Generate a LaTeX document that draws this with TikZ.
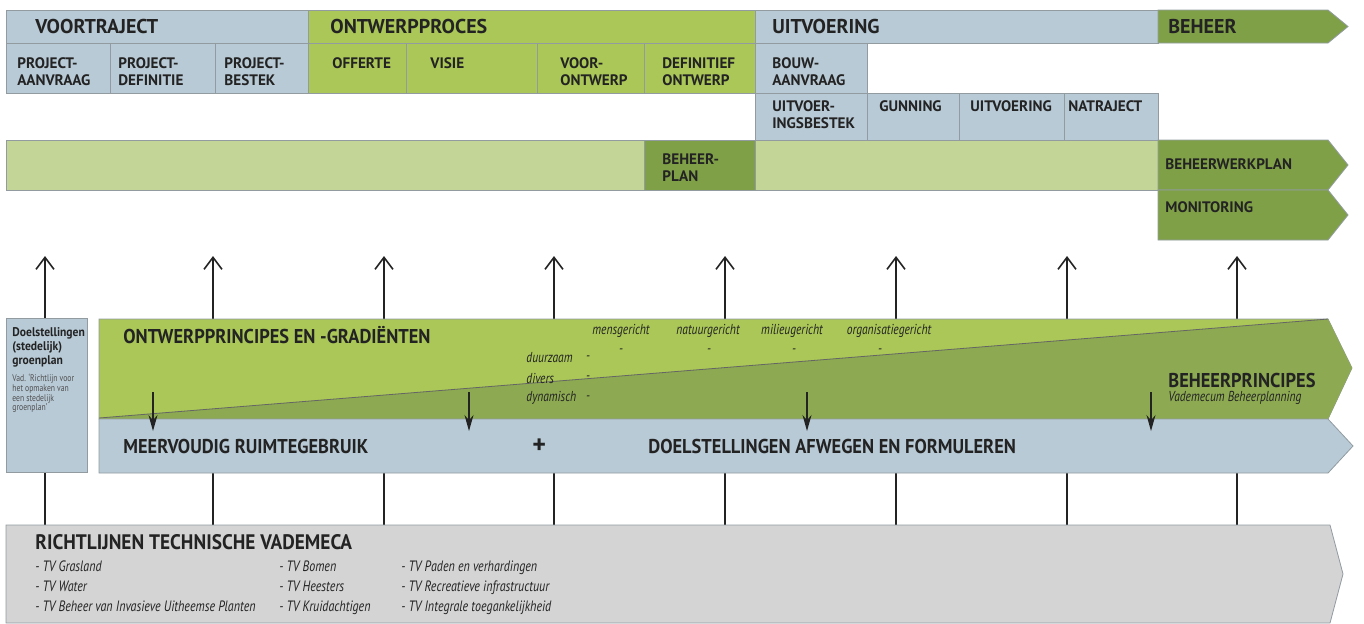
\documentclass[tikz,border=0pt]{standalone}
\usepackage{fontspec}
\setmainfont{PT Sans}
\newfontfamily\headfont{PT Sans}[FakeStretch=0.92]
\newfontfamily\condfont{PT Sans}[FakeStretch=0.8]
\usetikzlibrary{arrows.meta}
\definecolor{ink}{RGB}{35,35,35}
\definecolor{edgegray}{RGB}{145,155,160}
\definecolor{greyblue}{RGB}{184,202,214}
\definecolor{lime}{RGB}{170,199,88}
\definecolor{darkgreen}{RGB}{128,160,72}
\definecolor{palegreen}{RGB}{196,213,152}
\definecolor{wedge}{RGB}{141,170,82}
\definecolor{lightgrey}{RGB}{212,212,212}
\begin{document}
\begin{tikzpicture}[x=0.5pt,y=-0.5pt,
  edge/.style={draw=edgegray, line width=0.4pt},
  phase/.style={font=\bfseries\fontsize{10}{11}\selectfont, text=ink, anchor=west, inner sep=0pt},
  head/.style={font=\headfont\bfseries\fontsize{10}{11}\selectfont, text=ink, anchor=west, inner sep=0pt},
  cell/.style={font=\bfseries\fontsize{7.6}{8.5}\selectfont, text=ink, anchor=north west, align=left, inner sep=0pt},
  grad/.style={font=\condfont\itshape\fontsize{7.2}{8}\selectfont, text=ink, inner sep=0pt},
  tvlist/.style={font=\condfont\itshape\fontsize{7.5}{10}\selectfont, text=ink, anchor=north west, align=left, inner sep=0pt},
  uparrow/.style={draw=ink, line width=0.8pt, -{Straight Barb[length=6pt,width=9pt,line width=0.8pt]}},
  downarrow/.style={draw=ink, line width=0.7pt, -{Stealth[length=8pt,width=4.5pt]}}]
\useasboundingbox (0,0) rectangle (1364,623);

% vertical lines behind the bands
\coordinate (base1) at (45,525);   \coordinate (up1) at (45,256);
\coordinate (base2) at (213,525);  \coordinate (up2) at (213,256);
\coordinate (base3) at (384,525);  \coordinate (up3) at (384,256);
\coordinate (base4) at (554,525);  \coordinate (up4) at (554,256);
\coordinate (base5) at (725,525);  \coordinate (up5) at (725,256);
\coordinate (base6) at (896,525);  \coordinate (up6) at (896,256);
\coordinate (base7) at (1067,525); \coordinate (up7) at (1067,256);
\coordinate (base8) at (1237,525); \coordinate (up8) at (1237,256);
\draw[uparrow] (base1) -- (up1);
\draw[uparrow] (base2) -- (up2);
\draw[uparrow] (base3) -- (up3);
\draw[uparrow] (base4) -- (up4);
\draw[uparrow] (base5) -- (up5);
\draw[uparrow] (base6) -- (up6);
\draw[uparrow] (base7) -- (up7);
\draw[uparrow] (base8) -- (up8);

% phases
\draw[edge, fill=greyblue] (6,10) rectangle (308,43);
\draw[edge, fill=lime] (308,10) rectangle (755,43);
\draw[edge, fill=greyblue] (755,10) rectangle (1158,43);
\draw[edge, fill=darkgreen] (1158,10) -- (1328,10) -- (1348,26.5) -- (1328,43) -- (1158,43) -- cycle;
\node[phase] (voortraject) at (35,26) {VOORTRAJECT};
\node[phase] (ontwerpproces) at (330,26) {ONTWERPPROCES};
\node[phase] (uitvoering) at (772,26) {UITVOERING};
\node[phase] (beheer) at (1168,26) {BEHEER};

% steps
\draw[edge, fill=greyblue] (6,43) rectangle (110,93);
\draw[edge, fill=greyblue] (110,43) rectangle (215,93);
\draw[edge, fill=greyblue] (215,43) rectangle (308,93);
\draw[edge, fill=lime] (308,43) rectangle (406,93);
\draw[edge, fill=lime] (406,43) rectangle (537,93);
\draw[edge, fill=lime] (537,43) rectangle (644,93);
\draw[edge, fill=lime] (644,43) rectangle (755,93);
\draw[edge, fill=greyblue] (755,43) rectangle (867,93);
\draw[edge, fill=greyblue] (755,93) rectangle (867,140);
\draw[edge, fill=greyblue] (867,93) rectangle (959,140);
\draw[edge, fill=greyblue] (959,93) rectangle (1064,140);
\draw[edge, fill=greyblue] (1064,93) rectangle (1158,140);
\node[cell] (aanvraag) at (17,57) {PROJECT-\\AANVRAAG};
\node[cell] (definitie) at (118,57) {PROJECT-\\DEFINITIE};
\node[cell] (bestek) at (224,57) {PROJECT-\\BESTEK};
\node[cell] (offerte) at (332,57) {OFFERTE};
\node[cell] (visie) at (430,57) {VISIE};
\node[cell] (voorontwerp) at (560,57) {VOOR-\\ONTWERP};
\node[cell] (definitief) at (662,57) {DEFINITIEF\\ONTWERP};
\node[cell] (bouwaanvraag) at (772,57) {BOUW-\\AANVRAAG};
\node[cell] (uitvbestek) at (772,100) {UITVOER-\\INGSBESTEK};
\node[cell] (gunning) at (879,100) {GUNNING};
\node[cell] (uitvoer) at (970,100) {UITVOERING};
\node[cell] (natraject) at (1068,100) {NATRAJECT};

% beheer band
\draw[edge, fill=palegreen] (6,140) rectangle (644,190);
\draw[edge, fill=darkgreen] (644,140) rectangle (755,190);
\draw[edge, fill=palegreen] (755,140) rectangle (1158,190);
\draw[edge, fill=darkgreen] (1158,140) -- (1328,140) -- (1348,165) -- (1328,190) -- (1158,190) -- cycle;
\draw[edge, fill=darkgreen] (1158,190) -- (1328,190) -- (1348,215) -- (1328,240) -- (1158,240) -- cycle;
\node[cell] (beheerplan) at (662,153) {BEHEER-\\PLAN};
\node[cell, anchor=west] (werkplan) at (1165,164) {BEHEERWERKPLAN};
\node[cell, anchor=west] (monitoring) at (1165,207) {MONITORING};

% left box
\draw[edge, fill=greyblue] (6,318) rectangle (87,472);
\node[font=\headfont\bfseries\fontsize{6.3}{7}\selectfont, text=ink, anchor=north west, align=left, inner sep=0pt] (doel) at (12,327) {Doelstellingen\\(stedelijk)\\groenplan};
\node[font=\condfont\fontsize{4.8}{4.8}\selectfont, text=ink!80, anchor=north west, align=left, inner sep=0pt] (vad) at (12,374) {Vad. ‘Richtlijn voor\\het opmaken van\\een stedelijk\\groenplan’};

% principes band
\draw[edge, fill=lime] (99,319) -- (1328,319) -- (1352,368) -- (1328,419) -- (99,419) -- cycle;
\fill[wedge] (99,418) -- (1328,319) -- (1352,368) -- (1328,419) -- (99,419) -- cycle;
\draw[ink!70, line width=0.4pt] (99,418) -- (1328,319);
\node[head] (principes) at (123,335) {ONTWERPPRINCIPES EN -GRADIËNTEN};
\node[grad] (mens) at (621,331) {mensgericht};
\node[grad] (natuur) at (708,331) {natuurgericht};
\node[grad] (milieu) at (792,331) {milieugericht};
\node[grad] (organisatie) at (889,331) {organisatiegericht};
\node[grad] at (621,351) {-};
\node[grad] at (709,351) {-};
\node[grad] at (794,351) {-};
\node[grad] at (880,351) {-};
\node[grad, anchor=west] (duurzaam) at (526,358) {duurzaam};
\node[grad, anchor=west] (divers) at (526,378) {divers};
\node[grad, anchor=west] (dynamisch) at (526,398) {dynamisch};
\node[grad] at (588,358) {-};
\node[grad] at (588,378) {-};
\node[grad] at (588,398) {-};
\node[head] (beheerprincipes) at (1168,380) {BEHEERPRINCIPES};
\node[grad, anchor=west] (vademecum) at (1168,398) {Vademecum Beheerplanning};

% doelstellingen band
\draw[edge, fill=greyblue] (99,419) -- (1328,419) -- (1353,446) -- (1328,473) -- (99,473) -- cycle;
\node[head] (meervoudig) at (123,446) {MEERVOUDIG RUIMTEGEBRUIK};
\node[head, font=\bfseries\fontsize{13}{13}\selectfont] (plus) at (532,446) {+};
\node[head] (afwegen) at (648,446) {DOELSTELLINGEN AFWEGEN EN FORMULEREN};

% arrows from principes to doelstellingen
\coordinate (dtop1) at (153,392);  \coordinate (dbot1) at (153,431);
\coordinate (dtop2) at (469,392);  \coordinate (dbot2) at (469,431);
\coordinate (dtop3) at (807,392);  \coordinate (dbot3) at (807,431);
\coordinate (dtop4) at (1151,392); \coordinate (dbot4) at (1151,431);
\draw[downarrow] (dtop1) -- (dbot1);
\draw[downarrow] (dtop2) -- (dbot2);
\draw[downarrow] (dtop3) -- (dbot3);
\draw[downarrow] (dtop4) -- (dbot4);

% richtlijnen band
\draw[edge, fill=lightgrey] (6,525) -- (1330,525) -- (1343,574) -- (1330,623) -- (6,623) -- cycle;
\node[head, font=\headfont\bfseries\fontsize{10.5}{11}\selectfont] (richtlijnen) at (35,542) {RICHTLIJNEN TECHNISCHE VADEMECA};
\node[tvlist] (tvcol1) at (35,560) {- TV Grasland\\- TV Water\\- TV Beheer van Invasieve Uitheemse Planten};
\node[tvlist] (tvcol2) at (279,560) {- TV Bomen\\- TV Heesters\\- TV Kruidachtigen};
\node[tvlist] (tvcol3) at (401,560) {- TV Paden en verhardingen\\- TV Recreatieve infrastructuur\\- TV Integrale toegankelijkheid};
\end{tikzpicture}
\end{document}
